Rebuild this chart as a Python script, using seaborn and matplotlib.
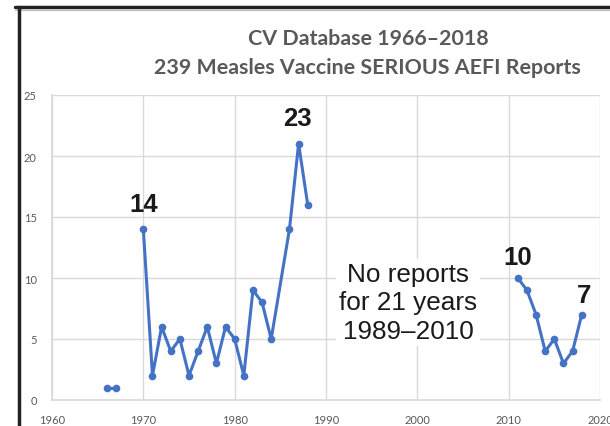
import matplotlib
matplotlib.use("Agg")
import matplotlib.pyplot as plt
import seaborn as sns
import pandas as pd
from matplotlib.lines import Line2D

# serious AEFI reports per year, three separate runs of data
years_early = [1966, 1967]
counts_early = [1, 1]
years_mid = [1970, 1971, 1972, 1973, 1974, 1975, 1976, 1977, 1978, 1979,
             1980, 1981, 1982, 1983, 1984, 1986, 1987, 1988]
counts_mid = [14, 2, 6, 4, 5, 2, 4, 6, 3, 6, 5, 2, 9, 8, 5, 14, 21, 16]
years_late = [2011, 2012, 2013, 2014, 2015, 2016, 2017, 2018]
counts_late = [10, 9, 7, 4, 5, 3, 4, 7]

x_ticks = [1960, 1970, 1980, 1990, 2000, 2010, 2020]
y_ticks = [0, 5, 10, 15, 20, 25]
title = "CV Database 1966\u20132018\n239 Measles Vaccine SERIOUS AEFI Reports"
gap_note = "No reports\nfor 21 years\n1989\u20132010"

df = pd.concat([
    pd.DataFrame({"year": years_early, "count": counts_early, "seg": "a"}),
    pd.DataFrame({"year": years_mid, "count": counts_mid, "seg": "b"}),
    pd.DataFrame({"year": years_late, "count": counts_late, "seg": "c"}),
])

sns.set_style("white")
plt.rcParams["font.family"] = ["Lato", "DejaVu Sans"]

blue = "#4472C4"
grid = "#D9D9D9"

fig = plt.figure(figsize=(6.1, 4.27), dpi=100)
ax = fig.add_axes([52/610, 26/427, 548/610, 305/427])

sns.lineplot(data=df, x="year", y="count", hue="seg", palette=[blue]*3,
             marker="o", markersize=5.5, markeredgewidth=0, linewidth=2.2,
             legend=False, ax=ax, zorder=3)

ax.set_xlim(1960, 2020)
ax.set_ylim(0, 25)
ax.set_xticks(x_ticks)
ax.set_yticks(y_ticks)
ax.grid(True, color=grid, linewidth=1)
ax.set_axisbelow(True)
for s in ["top", "right"]:
    ax.spines[s].set_visible(False)
for s in ["left", "bottom"]:
    ax.spines[s].set_color(grid)
    ax.spines[s].set_linewidth(1.2)
ax.tick_params(length=0, labelsize=8, labelcolor="#595959")
ax.tick_params(axis="y", pad=11)
ax.tick_params(axis="x", pad=10)
ax.set_xlabel("")
ax.set_ylabel("")

bold = dict(family=["Liberation Sans", "DejaVu Sans"], fontsize=18.5,
            fontweight="bold", color="#1a1a1a", ha="center", va="center")
ax.text(1970, 16.1, "14", **bold)
ax.text(1986.9, 23.1, "23", **bold)
ax.text(2011, 11.7, "10", **bold)
ax.text(2018.3, 8.6, "7", **bold)

ax.text(1999, 8.0, gap_note, family=["Liberation Sans", "DejaVu Sans"],
        fontsize=18.8, color="#1a1a1a", ha="center", va="center",
        linespacing=1.25, zorder=4,
        bbox=dict(facecolor="white", edgecolor="none", pad=2))

fig.text(0.603, 0.875, title, ha="center", va="center", fontsize=15.4,
         fontweight="bold", color="#595959", linespacing=1.55)

# slide frame
fig.add_artist(Line2D([15/610, 1], [1 - 8/427, 1 - 8/427], color="#222222", linewidth=2.5))
fig.add_artist(Line2D([15/610, 1], [1 - 11/427, 1 - 11/427], color="#BBBBBB", linewidth=0.8))
fig.add_artist(Line2D([19/610, 19/610], [0, 1 - 8/427], color="#222222", linewidth=2.5))

fig.savefig("out.png", dpi=100)
